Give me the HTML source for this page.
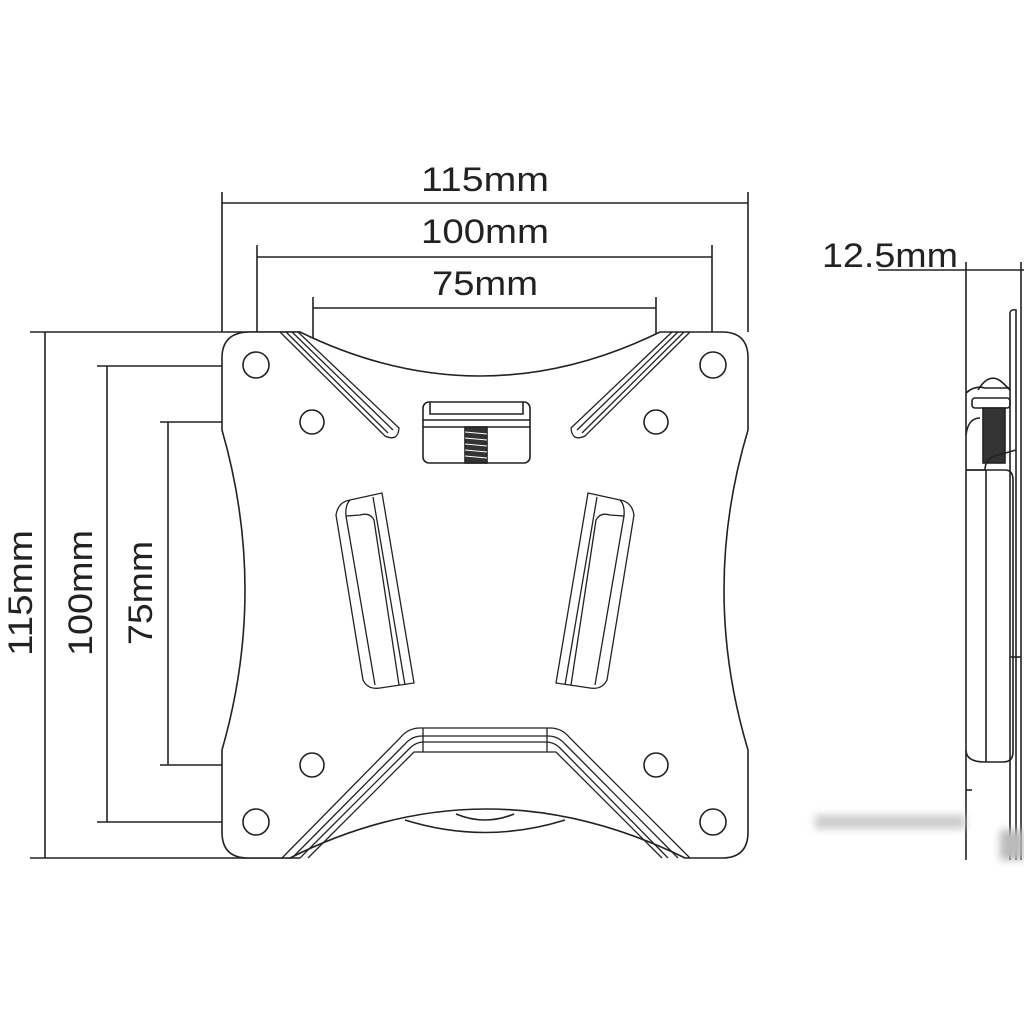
<!DOCTYPE html>
<html><head><style>html,body{margin:0;padding:0;background:#fff}svg{display:block}</style></head>
<body>
<svg width="1024" height="1024" viewBox="0 0 1024 1024" xmlns="http://www.w3.org/2000/svg" font-family="Liberation Sans, DejaVu Sans, sans-serif" fill="none" stroke="#222" stroke-width="1.6">
<line x1="222" y1="192" x2="222" y2="332"/>
<line x1="748" y1="192" x2="748" y2="332"/>
<line x1="222" y1="203" x2="748" y2="203"/>
<line x1="257" y1="245" x2="257" y2="366"/>
<line x1="712" y1="245" x2="712" y2="366"/>
<line x1="257" y1="257" x2="712" y2="257"/>
<line x1="313" y1="297" x2="313" y2="422"/>
<line x1="656" y1="297" x2="656" y2="422"/>
<line x1="313" y1="308" x2="656" y2="308"/>
<line x1="30" y1="332" x2="300" y2="332"/>
<line x1="30" y1="858" x2="300" y2="858"/>
<line x1="45" y1="332" x2="45" y2="858"/>
<line x1="97" y1="366" x2="257" y2="366"/>
<line x1="97" y1="822" x2="256" y2="822"/>
<line x1="107" y1="366" x2="107" y2="822"/>
<line x1="160" y1="422" x2="312" y2="422"/>
<line x1="160" y1="765" x2="312" y2="765"/>
<line x1="168" y1="422" x2="168" y2="765"/>
<g fill="#222" stroke="none" font-size="34">
<text x="485" y="191" text-anchor="middle" textLength="128" lengthAdjust="spacingAndGlyphs">115mm</text>
<text x="485" y="243" text-anchor="middle" textLength="128" lengthAdjust="spacingAndGlyphs">100mm</text>
<text x="485" y="295" text-anchor="middle" textLength="106" lengthAdjust="spacingAndGlyphs">75mm</text>
<text x="890" y="267" text-anchor="middle" textLength="136" lengthAdjust="spacingAndGlyphs">12.5mm</text>
<text transform="translate(32,593) rotate(-90)" text-anchor="middle" textLength="126" lengthAdjust="spacingAndGlyphs">115mm</text>
<text transform="translate(92,593) rotate(-90)" text-anchor="middle" textLength="126" lengthAdjust="spacingAndGlyphs">100mm</text>
<text transform="translate(152,593) rotate(-90)" text-anchor="middle" textLength="104" lengthAdjust="spacingAndGlyphs">75mm</text>
</g>
<path d="M250,332 L300,332 Q480,420 660,332 L722,332 Q748,332 748,358 L748,430 Q700,590 748,750 L748,832 Q748,858 722,858 L685,858 Q485,760 290,858 L248,858 Q222,858 222,832 L222,750 Q268,590 222,430 L222,358 Q222,332 250,332 Z" fill="#fff"/>
<path d="M405,820 Q485,845 565,820"/>
<path d="M456,814 Q485,826 514,814"/>
<circle cx="256" cy="365" r="13"/><circle cx="713" cy="365" r="13"/>
<circle cx="312" cy="422" r="12"/><circle cx="656" cy="422" r="12"/>
<circle cx="312" cy="765" r="12"/><circle cx="656" cy="765" r="12"/>
<circle cx="256" cy="822" r="13"/><circle cx="713" cy="822" r="13"/>
<g stroke-width="1.3">
<path d="M280,332 L385,436 Q398,442 399,428 L298,332"/>
<line x1="286" y1="332" x2="388" y2="433"/>
<line x1="292" y1="332" x2="393" y2="430"/>
<path d="M690,332 L585,436 Q572,442 571,428 L672,332"/>
<line x1="684" y1="332" x2="582" y2="433"/>
<line x1="678" y1="332" x2="577" y2="430"/>
<path d="M282,858 L400,738 Q408,728 420,728 L550,728 Q562,728 570,738 L690,858"/>
<path d="M292,858 L405,744 Q412,736 422,736 L548,736 Q558,736 565,744 L678,858"/>
<path d="M300,858 L410,748 Q416,742 424,742 L546,742 Q554,742 560,748 L668,858"/>
<path d="M308,858 L414,752 L556,752 L662,858"/>
<line x1="423" y1="728" x2="423" y2="752"/><line x1="547" y1="728" x2="547" y2="752"/>
</g>
<rect x="423" y="402" width="107" height="61" rx="6"/>
<path d="M430,402 L430,414 L523,414 L523,402"/>
<line x1="423" y1="420" x2="530" y2="420"/>
<line x1="423" y1="427" x2="530" y2="427"/>
<rect x="465" y="427" width="22" height="36" fill="#333"/>
<g stroke="#fff" stroke-width="1">
<line x1="465" y1="432" x2="487" y2="434"/><line x1="465" y1="438" x2="487" y2="440"/><line x1="465" y1="444" x2="487" y2="446"/><line x1="465" y1="450" x2="487" y2="452"/><line x1="465" y1="456" x2="487" y2="458"/></g>
<g stroke-width="1.3">
<path d="M350,500 Q338,502 336,515 L363,680 Q368,690 380,688 L414,683 L382,493 Z"/>
<path d="M350,500 Q345,505 346,516 L360,515 Q370,512 374,520 L399,685"/>
<line x1="373" y1="497" x2="405" y2="685"/>
<path d="M346,516 L375,685"/>
</g>
<g transform="translate(970,0) scale(-1,1)" stroke-width="1.3">
<path d="M350,500 Q338,502 336,515 L363,680 Q368,690 380,688 L414,683 L382,493 Z"/>
<path d="M350,500 Q345,505 346,516 L360,515 Q370,512 374,520 L399,685"/>
<line x1="373" y1="497" x2="405" y2="685"/>
<path d="M346,516 L375,685"/>
</g>
<line x1="878" y1="270" x2="1024" y2="270"/>
<line x1="966" y1="262" x2="966" y2="860"/>
<line x1="1021" y1="262" x2="1021" y2="860"/>
<line x1="1010" y1="312" x2="1010" y2="860"/>
<path d="M1010,312 Q1012,309 1016,310 L1016,860"/>
<path d="M966,393 Q975,385 985,388 L1010,388"/>
<path d="M978,390 Q990,370 1004,384 L1010,390"/>
<rect x="972" y="398" width="38" height="10" rx="3"/>
<rect x="983" y="408" width="22" height="55" fill="#333"/>
<path d="M966,435 Q968,418 980,418"/>
<path d="M985,470 Q985,458 998,455 L1016,450"/>
<path d="M966,470 L1005,470 Q1013,470 1013,480 L1013,752 Q1013,762 1003,762 L985,762 Q966,762 966,750"/>
<line x1="986" y1="470" x2="986" y2="762"/>
<line x1="966" y1="470" x2="985" y2="470"/>
<line x1="1010" y1="657" x2="1021" y2="657"/>
<line x1="966" y1="790" x2="972" y2="790"/>
</svg>
<div style="position:absolute;left:815px;top:815px;width:150px;height:14px;background:#ccc;filter:blur(4px)"></div>
<div style="position:absolute;left:1000px;top:830px;width:24px;height:30px;background:#bbb;filter:blur(4px)"></div>
</body></html>
